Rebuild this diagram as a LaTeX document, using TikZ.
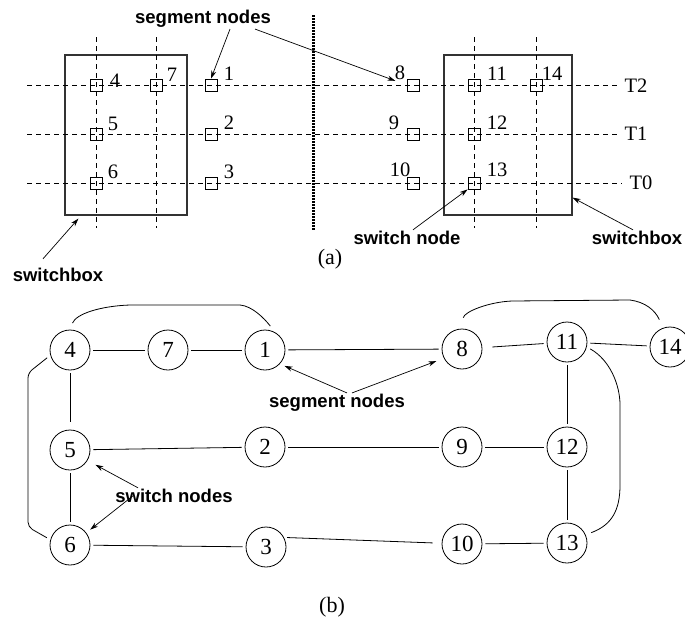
\documentclass[tikz,border=0pt]{standalone}
\usepackage{fontspec}
\setmainfont{Liberation Serif}
\newfontfamily\labelfont{Liberation Sans}
\usetikzlibrary{arrows.meta, positioning, calc}
\tikzset{
  every picture/.style={line width=0.8pt},
  sq/.style={draw, rectangle, minimum size=12pt, inner sep=0pt},
  num/.style={font=\fontsize{20.5}{20.5}\selectfont, inner sep=0pt},
  vtx/.style={draw, circle, minimum size=40pt, inner sep=0pt, font=\fontsize{23}{23}\selectfont},
  lbl/.style={font=\labelfont\bfseries\fontsize{18.5}{18.5}\selectfont, inner sep=1pt},
  track/.style={dash pattern=on 5pt off 4pt, line width=0.7pt},
  sbox/.style={draw=black!80, line width=1.2pt, rectangle, inner sep=0pt},
  arrow/.style={-{Stealth[length=8pt, width=5pt]}, line width=0.7pt},
  link/.style={shorten <=3pt, shorten >=3pt},
}

\begin{document}
\begin{tikzpicture}[x=1pt, y=-1pt]
  \useasboundingbox (0,0) rectangle (685,621);
  % (a) switchboxes and tracks
  \node[sbox, minimum width=122pt, minimum height=160pt] (boxL) at (126,135) {};
  \node[sbox, minimum width=128pt, minimum height=160pt] (boxR) at (508,135) {};
  \foreach \y in {85,134}
    \draw[track] (27,\y) -- (617,\y);
  \draw[track] (27,183) -- (622,183);
  \foreach \x in {96,156,474,536}
    \draw[track] (\x,37) -- (\x,228);
  \draw[line width=3pt, dash pattern=on 1.5pt off 1.5pt] (313,15) -- (313,230);
  % segment and switch nodes
  \foreach \n/\x/\y in {4/96/85, 5/96/134, 6/96/183, 7/156/85, 1/211/85, 2/211/134, 3/211/183,
                        8/413/85, 9/413/134, 10/413/183, 11/474/85, 12/474/134, 13/474/183, 14/536/85}
    \node[sq] (s\n) at (\x,\y) {};
  \foreach \n/\x/\y in {4/115/81, 7/172/75, 1/229/74, 5/113/124, 2/229/123, 6/113/172, 3/229/172,
                        8/400/73, 11/497/74, 14/552/74, 9/394/123, 12/497/123, 10/400/170, 13/497/170}
    \node[num] (t\n) at (\x,\y) {\n};
  \node[num] (trk2) at (636,86) {T2};
  \node[num] (trk1) at (636,134) {T1};
  \node[num] (trk0) at (641,183) {T0};
  % callouts
  \node[lbl] (segA) at (203,19) {segment nodes};
  \draw[arrow] ([xshift=27pt]segA.south) -- (s1.north);
  \draw[arrow, shorten >=12pt] ([xshift=52pt]segA.south) -- (s8.west);
  \node[lbl] (swA) at (407,238) {switch node};
  \draw[arrow] ([xshift=6pt]swA.north) -- (s13.south west);
  \node[lbl] (sbR) at (637,238) {switchbox};
  \draw[arrow] ([xshift=-4pt]sbR.north) -- ([yshift=18pt]boxR.south east);
  \node[lbl] (sbL) at (58,275) {switchbox};
  \draw[arrow] ([xshift=-15pt, yshift=8pt]sbL.north) -- ([xshift=14pt, yshift=-3pt]boxL.south west);
  \node[num, font=\fontsize{22}{22}\selectfont] (capA) at (330,259) {(a)};

  % (b) routing graph
  \foreach \n/\x/\y in {4/70/350, 7/168/350, 1/265/350, 5/70/450, 2/265/447, 6/70/545, 3/266/547,
                        8/462/349, 11/567/342, 14/670/347, 9/462/447, 12/567/447, 10/462/544, 13/567/543}
    \node[vtx] (n\n) at (\x,\y) {\n};
  \foreach \a/\b in {4/7, 7/1, 1/8, 11/14, 5/2, 2/9, 9/12, 5/6, 11/12, 12/13, 6/3, 10/13}
    \draw[link] (n\a) -- (n\b);
  \draw[link, shorten <=10pt] (n8) -- (n11);
  \draw[link, shorten >=8pt] (n4) -- (n5);
  \draw[link, shorten >=9pt] (n3.28) -- (n10);
  % switchbox links drawn round the outside
  \draw[shorten <=7pt, shorten >=8pt] (n4.north) .. controls (76,314) and (100,306) .. (130,305)
    -- (240,305) .. controls (252,306) and (264,318) .. (n1.60);
  \draw[rounded corners=5pt, shorten <=4pt, shorten >=4pt] (n4.195) -- (28,373) -- (28,527) -- (n6.165);
  \draw[shorten <=11pt, shorten >=9pt] (n8.north) .. controls (464,312) and (488,302) .. (512,301)
    -- (630,300) .. controls (645,302) and (655,310) .. (n14.110);
  \draw[shorten <=4pt, shorten >=6pt] (n11.346) .. controls (610,360) and (620,385) .. (620,405)
    -- (620,485) .. controls (620,510) and (612,525) .. (n13.24);
  % callouts
  \node[lbl] (segB) at (337,403) {segment nodes};
  \draw[arrow, shorten >=5pt] ([xshift=10pt]segB.north) -- (n1.317);
  \draw[arrow, shorten >=8pt] ([xshift=15pt]segB.north) -- (n8.207);
  \node[lbl] (swB) at (174,496) {switch nodes};
  \draw[arrow, shorten >=9pt] ([xshift=-36pt]swB.north) -- (n5.329);
  \draw[arrow, shorten >=5pt] ([xshift=-41pt, yshift=-8pt]swB.north) -- (n6.37);
  \node[num, font=\fontsize{22}{22}\selectfont] (capB) at (332,607) {(b)};
\end{tikzpicture}
\end{document}
